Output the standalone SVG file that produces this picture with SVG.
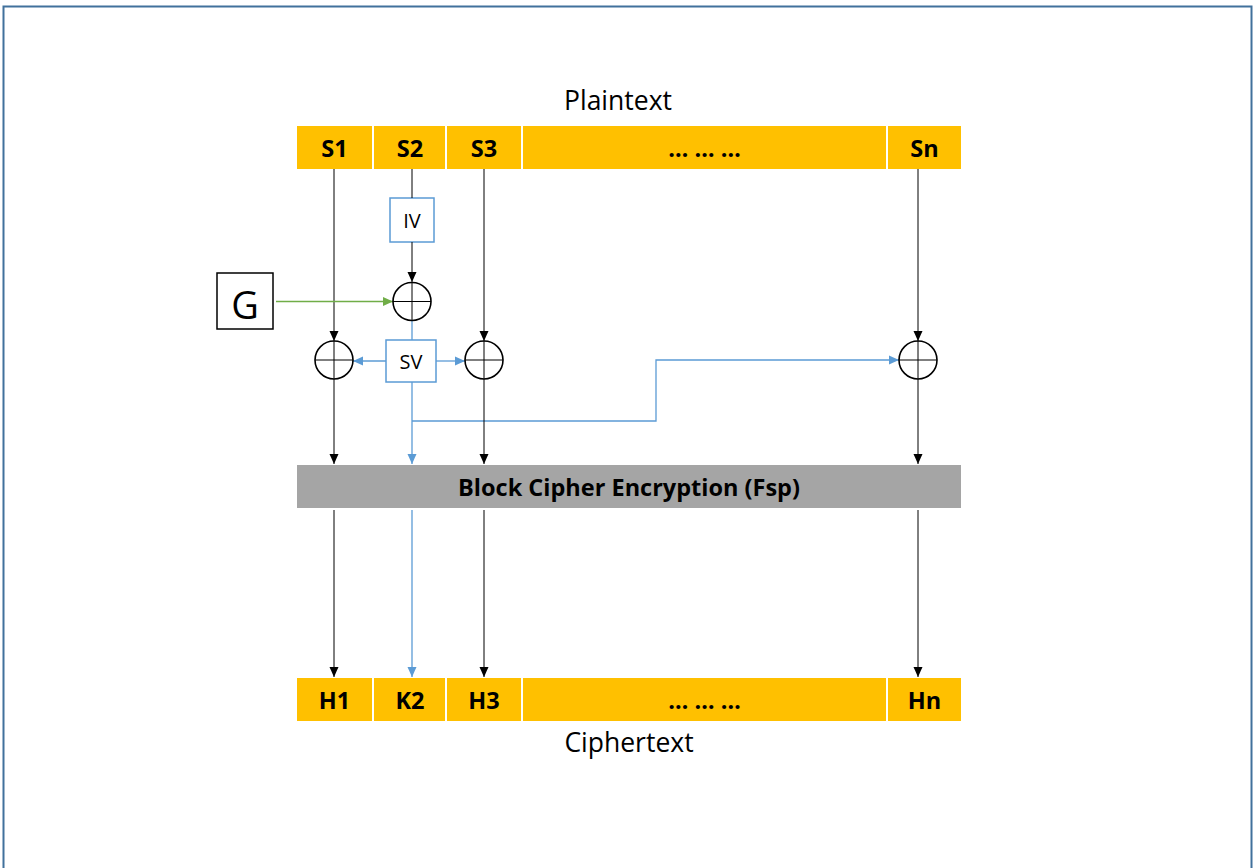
<svg xmlns="http://www.w3.org/2000/svg" width="1259" height="868" viewBox="0 0 1259 868">
<style>
.cell{fill:#FFC000}
.blk{fill:#A5A5A5}
.lbl{font-family:"Open Sans","Liberation Sans",sans-serif;font-weight:bold;font-size:23.5px;fill:#000;text-anchor:middle;dominant-baseline:central}
.cap{font-family:"Open Sans","Liberation Sans",sans-serif;font-size:26.5px;fill:#000;text-anchor:middle;dominant-baseline:central}
.sm{font-family:"Open Sans","Liberation Sans",sans-serif;font-size:20px;fill:#000;text-anchor:middle;dominant-baseline:central}
.bx{fill:#fff;stroke:#5B9BD5;stroke-width:1.5}
.xor{fill:#fff;stroke:#000;stroke-width:1.6}
.k{stroke:#000;stroke-width:1;fill:none}
.b{stroke:#5B9BD5;stroke-width:1.3;fill:none}
.g{stroke:#70AD47;stroke-width:1.3;fill:none}
</style>
<defs>
<marker id="ak" markerUnits="userSpaceOnUse" markerWidth="10" markerHeight="10" refX="10" refY="5" orient="auto"><path d="M0,0.5 L10,5 L0,9.5 Z" fill="#000"/></marker>
<marker id="ab" markerUnits="userSpaceOnUse" markerWidth="10" markerHeight="10" refX="10" refY="5" orient="auto"><path d="M0,0.5 L10,5 L0,9.5 Z" fill="#5B9BD5"/></marker>
<marker id="ag" markerUnits="userSpaceOnUse" markerWidth="10" markerHeight="10" refX="10" refY="5" orient="auto"><path d="M0,0.5 L10,5 L0,9.5 Z" fill="#70AD47"/></marker>
</defs>
<rect x="3.5" y="6.5" width="1248" height="870" fill="#fff" stroke="#41719C" stroke-width="2"/>

<g id="plaintext">
<text class="cap" x="618" y="100">Plaintext</text>
<rect class="cell" x="297" y="126" width="75" height="43"/><text class="lbl" x="334.5" y="148">S1</text>
<rect class="cell" x="374" y="126" width="71" height="43"/><text class="lbl" x="410" y="148">S2</text>
<rect class="cell" x="447" y="126" width="74" height="43"/><text class="lbl" x="484" y="148">S3</text>
<rect class="cell" x="523" y="126" width="363" height="43"/><text class="lbl" x="704.5" y="148">… … …</text>
<rect class="cell" x="888" y="126" width="73" height="43"/><text class="lbl" x="924.5" y="148">Sn</text>
</g>

<g id="ciphertext">
<rect class="cell" x="297" y="678" width="75" height="43"/><text class="lbl" x="334.5" y="700">H1</text>
<rect class="cell" x="374" y="678" width="71" height="43"/><text class="lbl" x="410" y="700">K2</text>
<rect class="cell" x="447" y="678" width="74" height="43"/><text class="lbl" x="484" y="700">H3</text>
<rect class="cell" x="523" y="678" width="363" height="43"/><text class="lbl" x="704.5" y="700">… … …</text>
<rect class="cell" x="888" y="678" width="73" height="43"/><text class="lbl" x="924.5" y="700">Hn</text>
<text class="cap" x="629" y="742">Ciphertext</text>
</g>

<g id="block">
<rect class="blk" x="297" y="465" width="664" height="43"/>
<text class="lbl" x="629" y="487">Block Cipher Encryption (Fsp)</text>
</g>

<g id="G">
<rect x="217" y="273" width="56" height="56" fill="#fff" stroke="#000" stroke-width="1.5"/>
<text x="245" y="304" font-family="'Open Sans','Liberation Sans',sans-serif" font-size="38" text-anchor="middle" dominant-baseline="central">G</text>
</g>

<g id="IV"><rect class="bx" x="390" y="198" width="44" height="44"/><text class="sm" x="412" y="220">IV</text></g>
<g id="SV"><rect class="bx" x="386" y="340" width="50" height="42"/><text class="sm" x="411" y="361">SV</text></g>

<g id="connectors">
<line class="k" x1="334" y1="169" x2="334" y2="341" marker-end="url(#ak)"/>
<line class="k" x1="334" y1="379" x2="334" y2="464" marker-end="url(#ak)"/>
<line class="k" x1="334" y1="510" x2="334" y2="677" marker-end="url(#ak)"/>
<line class="k" x1="412" y1="169" x2="412" y2="198"/>
<line class="k" x1="412" y1="242" x2="412" y2="282" marker-end="url(#ak)"/>
<line class="b" x1="412" y1="321" x2="412" y2="340"/>
<line class="b" x1="412" y1="382" x2="412" y2="464" marker-end="url(#ab)"/>
<line class="b" x1="412" y1="510" x2="412" y2="677" marker-end="url(#ab)"/>
<polyline class="b" points="412,421 656,421 656,360 899,360" marker-end="url(#ab)"/>
<line class="b" x1="386" y1="361" x2="353" y2="361" marker-end="url(#ab)"/>
<line class="b" x1="436" y1="361" x2="465" y2="361" marker-end="url(#ab)"/>
<line class="g" x1="276" y1="301.5" x2="393" y2="301.5" marker-end="url(#ag)"/>
<line class="k" x1="484" y1="169" x2="484" y2="341" marker-end="url(#ak)"/>
<line class="k" x1="484" y1="379" x2="484" y2="464" marker-end="url(#ak)"/>
<line class="k" x1="484" y1="510" x2="484" y2="677" marker-end="url(#ak)"/>
<line class="k" x1="918" y1="169" x2="918" y2="341" marker-end="url(#ak)"/>
<line class="k" x1="918" y1="379" x2="918" y2="464" marker-end="url(#ak)"/>
<line class="k" x1="918" y1="510" x2="918" y2="677" marker-end="url(#ak)"/>
</g>

<g id="xor-top"><circle class="xor" cx="412" cy="301.5" r="19"/><path class="k" d="M393,301.5 H431 M412,282.5 V320.5"/></g>
<g id="xor-1"><circle class="xor" cx="334" cy="360" r="19"/><path class="k" d="M315,360 H353 M334,341 V379"/></g>
<g id="xor-3"><circle class="xor" cx="484" cy="360" r="19"/><path class="k" d="M465,360 H503 M484,341 V379"/></g>
<g id="xor-n"><circle class="xor" cx="918" cy="360" r="19"/><path class="k" d="M899,360 H937 M918,341 V379"/></g>
</svg>
